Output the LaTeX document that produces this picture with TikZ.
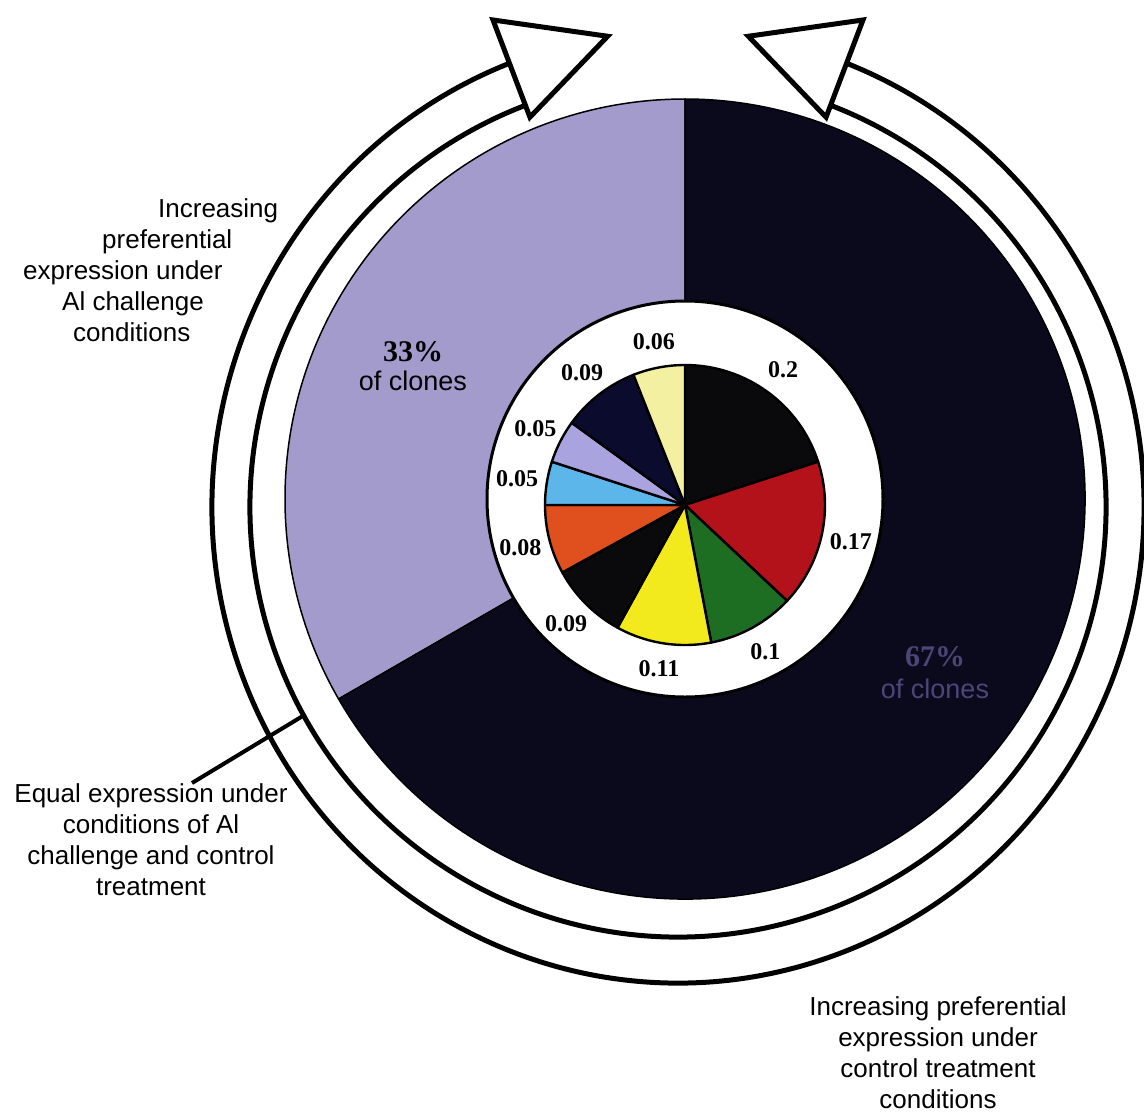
\documentclass[tikz,border=0pt]{standalone}
\usepackage{fontspec}
\setmainfont{Liberation Sans}
\newfontfamily\numfont{Liberation Serif}
\usetikzlibrary{calc}
\definecolor{aipurple}{HTML}{A39BCC}
\definecolor{ctrldark}{HTML}{0B0A1C}
\definecolor{pctnavy}{HTML}{4B4678}
\definecolor{pieblack}{HTML}{0A0A0C}
\definecolor{piered}{HTML}{B3121A}
\definecolor{piegreen}{HTML}{1D6E22}
\definecolor{pieyellow}{HTML}{F2EA1C}
\definecolor{pieorange}{HTML}{E0501E}
\definecolor{pieblue}{HTML}{5DB6EA}
\definecolor{pielilac}{HTML}{A9A3E0}
\definecolor{pienavy}{HTML}{0B0B2E}
\definecolor{piepale}{HTML}{F4F0A2}
\tikzstyle{sector}=[draw=black, line width=1.5pt]
\tikzstyle{slice}=[draw=black, line width=2.4pt, line join=round]
\tikzstyle{ring}=[line width=5pt]
\tikzstyle{arrowhead}=[draw=black, fill=white, line width=5pt, line join=miter]
\tikzstyle{share}=[font=\numfont\bfseries\fontsize{24}{26}\selectfont, inner sep=0pt]
\tikzstyle{pct}=[font=\fontsize{27}{28}\selectfont, align=center, inner sep=0pt]
\tikzstyle{note}=[font=\fontsize{26}{31}\selectfont, inner sep=0pt]

\begin{document}
\begin{tikzpicture}[x=1pt, y=1pt]
    \useasboundingbox (0,0) rectangle (1144,-1112);
    \coordinate (donut) at (685,-499);
    \coordinate (pie) at (685,-505);
    \coordinate (ring) at (678,-507);

    % donut: 33% / 67% of clones
    \filldraw[sector, fill=aipurple] (donut) -- ++(90:400) arc[start angle=90, end angle=210, radius=400] -- cycle;
    \filldraw[sector, fill=ctrldark] (donut) -- ++(210:400) arc[start angle=210, end angle=450, radius=400] -- cycle;
    \filldraw[fill=white, draw=black, line width=3pt] (donut) circle[radius=198];
    \node[pct] (aishare) at (413,-366) {{\numfont\bfseries\fontsize{30}{30}\selectfont 33\%}\\[1pt]of clones};
    \node[pct, text=pctnavy] (ctrlshare) at (935,-673) {{\numfont\bfseries\fontsize{30}{30}\selectfont 67\%}\\[4pt]of clones};

    % inner pie
    \filldraw[slice, fill=pieblack] (pie) -- ++(90:140) arc[start angle=90, end angle=18, radius=140] -- cycle;
    \filldraw[slice, fill=piered] (pie) -- ++(18:140) arc[start angle=18, end angle=-43.2, radius=140] -- cycle;
    \filldraw[slice, fill=piegreen] (pie) -- ++(-43.2:140) arc[start angle=-43.2, end angle=-79.2, radius=140] -- cycle;
    \filldraw[slice, fill=pieyellow] (pie) -- ++(-79.2:140) arc[start angle=-79.2, end angle=-118.8, radius=140] -- cycle;
    \filldraw[slice, fill=pieblack] (pie) -- ++(-118.8:140) arc[start angle=-118.8, end angle=-151.2, radius=140] -- cycle;
    \filldraw[slice, fill=pieorange] (pie) -- ++(-151.2:140) arc[start angle=-151.2, end angle=-180, radius=140] -- cycle;
    \filldraw[slice, fill=pieblue] (pie) -- ++(-180:140) arc[start angle=-180, end angle=-198, radius=140] -- cycle;
    \filldraw[slice, fill=pielilac] (pie) -- ++(-198:140) arc[start angle=-198, end angle=-216, radius=140] -- cycle;
    \filldraw[slice, fill=pienavy] (pie) -- ++(-216:140) arc[start angle=-216, end angle=-248.4, radius=140] -- cycle;
    \filldraw[slice, fill=piepale] (pie) -- ++(-248.4:140) arc[start angle=-248.4, end angle=-270, radius=140] -- cycle;

    \node[share] (v1) at ([shift={(54:167)}]pie) {0.2};
    \node[share] (v2) at ([shift={(-12.6:170)}]pie) {0.17};
    \node[share] (v3) at ([shift={(-61.2:167)}]pie) {0.1};
    \node[share] (v4) at ([shift={(-99:166)}]pie) {0.11};
    \node[share] (v5) at ([shift={(-135:168)}]pie) {0.09};
    \node[share] (v6) at ([shift={(-165.6:170)}]pie) {0.08};
    \node[share] (v7) at ([shift={(-189:170)}]pie) {0.05};
    \node[share] (v8) at ([shift={(-207:168)}]pie) {0.05};
    \node[share] (v9) at ([shift={(-232.2:168)}]pie) {0.09};
    \node[share] (v10) at ([shift={(-259.2:166)}]pie) {0.06};

    % band arrows round the donut
    \draw[ring] ([shift={(110.8:428 and 430)}]ring) arc[start angle=110.8, end angle=429.2, x radius=428, y radius=430];
    \draw[ring] ([shift={(110.8:466 and 476)}]ring) arc[start angle=110.8, end angle=429.2, x radius=466, y radius=476];
    \draw[arrowhead] ([shift={(110.8:417)}]ring) -- ([shift={(110.8:521)}]ring) -- ([shift={(98.5:476)}]ring) -- cycle;
    \draw[arrowhead] ([shift={(69.2:417)}]ring) -- ([shift={(69.2:521)}]ring) -- ([shift={(81.5:476)}]ring) -- cycle;
    \coordinate (split) at ([shift={(209:428 and 430)}]ring);

    \node[note, anchor=north west, align=left] (ailabel) at (23,-198)
        {\hspace*{135pt}Increasing\\ \hspace*{79pt}preferential\\ expression under\\ \hspace*{39pt}Al challenge\\ \hspace*{50pt}conditions};
    \node[note, anchor=north, align=center] (eqlabel) at (151,-783)
        {Equal expression under\\ conditions of Al\\ challenge and control\\ treatment};
    \node[note, anchor=north, align=center] (ctrllabel) at (938,-996)
        {Increasing preferential\\ expression under\\ control treatment\\ conditions};

    \draw[line width=4pt] (split) -- ([xshift=41pt]eqlabel.north);
\end{tikzpicture}
\end{document}
